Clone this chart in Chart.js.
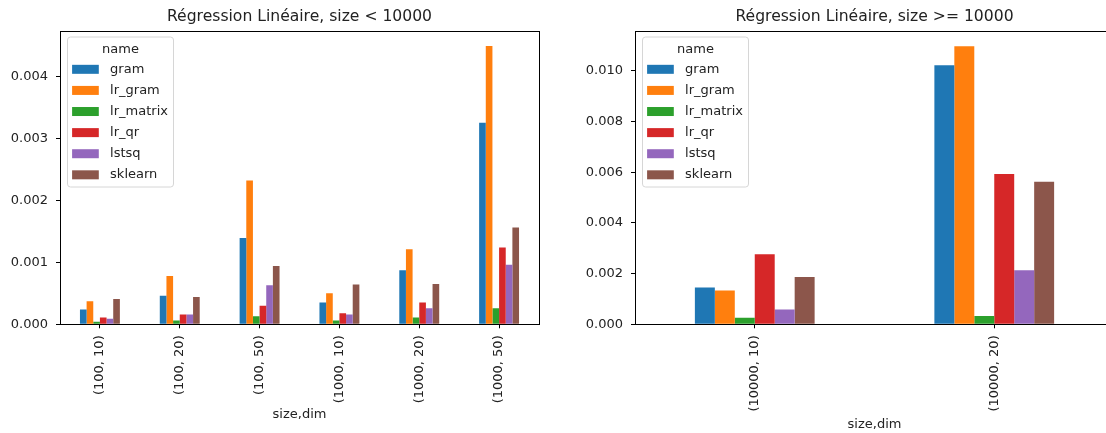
<!DOCTYPE html>
<html lang="fr">
<head>
<meta charset="UTF-8">
<title>Régression Linéaire</title>
<script src="https://cdn.jsdelivr.net/npm/chart.js"></script>
<style>
  html, body { margin: 0; padding: 0; background: #fff; overflow: hidden; }
  #wrap { position: relative; width: 1106px; height: 433px; overflow: hidden; }
  canvas { position: absolute; top: 0; }
  #left { left: 0; }
  #right { left: 560px; }
</style>
</head>
<body>
<div id="wrap">
  <canvas id="left" width="560" height="433"></canvas>
  <canvas id="right" width="560" height="433"></canvas>
</div>
<script>
// series names and colours (matplotlib tab10)
const seriesNames = ['gram', 'lr_gram', 'lr_matrix', 'lr_qr', 'lstsq', 'sklearn'];
const seriesColors = ['#1f77b4', '#ff7f0e', '#2ca02c', '#d62728', '#9467bd', '#8c564b'];

// size < 10000
const categoriesSmall = ['(100, 10)', '(100, 20)', '(100, 50)', '(1000, 10)', '(1000, 20)', '(1000, 50)'];
const gramSmall     = [0.00024, 0.00046, 0.00139, 0.00035, 0.00087, 0.00325];
const lrGramSmall   = [0.00037, 0.00078, 0.00232, 0.00050, 0.00121, 0.00449];
const lrMatrixSmall = [0.00004, 0.00006, 0.00013, 0.00006, 0.00011, 0.00026];
const lrQrSmall     = [0.00011, 0.00016, 0.00030, 0.00018, 0.00035, 0.00124];
const lstsqSmall    = [0.00009, 0.00016, 0.00063, 0.00016, 0.00026, 0.00096];
const sklearnSmall  = [0.00041, 0.00044, 0.00094, 0.00064, 0.00065, 0.00156];

// size >= 10000
const categoriesLarge = ['(10000, 10)', '(10000, 20)'];
const gramLarge     = [0.00145, 0.01022];
const lrGramLarge   = [0.00133, 0.01097];
const lrMatrixLarge = [0.00026, 0.00033];
const lrQrLarge     = [0.00276, 0.00593];
const lstsqLarge    = [0.00058, 0.00213];
const sklearnLarge  = [0.00187, 0.00562];

const FONT = '"DejaVu Sans", sans-serif';
const TEXT = '#222';

// black frame around the plot area
const framePlugin = {
    id: 'frame',
    afterDatasetsDraw(chart) {
        const a = chart.chartArea;
        const ctx = chart.ctx;
        ctx.save();
        ctx.strokeStyle = '#000';
        ctx.lineWidth = 1;
        ctx.strokeRect(Math.round(a.left) + 0.5, Math.round(a.top) + 0.5,
                       Math.round(a.right - a.left), Math.round(a.bottom - a.top));
        ctx.restore();
    }
};

// matplotlib style legend inside the top-left corner, titled "name"
const innerLegend = {
    id: 'innerLegend',
    afterDraw(chart) {
        const a = chart.chartArea;
        const ctx = chart.ctx;
        const x = a.left + 7.5, y = a.top + 6;
        const w = 106, h = 150, r = 3;
        ctx.save();
        ctx.beginPath();
        ctx.moveTo(x + r, y);
        ctx.arcTo(x + w, y, x + w, y + h, r);
        ctx.arcTo(x + w, y + h, x, y + h, r);
        ctx.arcTo(x, y + h, x, y, r);
        ctx.arcTo(x, y, x + w, y, r);
        ctx.closePath();
        ctx.fillStyle = 'rgba(255,255,255,0.8)';
        ctx.fill();
        ctx.strokeStyle = '#d6d6d6';
        ctx.lineWidth = 1;
        ctx.stroke();

        ctx.font = '13px ' + FONT;
        ctx.fillStyle = TEXT;
        ctx.textBaseline = 'middle';
        ctx.textAlign = 'center';
        ctx.fillText('name', x + w / 2, y + 12.5);
        ctx.textAlign = 'left';
        chart.data.datasets.forEach((ds, i) => {
            const cy = y + 32.3 + i * 21.1;
            ctx.fillStyle = ds.backgroundColor;
            ctx.fillRect(x + 4.6, cy - 4.5, 26.7, 9);
            ctx.fillStyle = TEXT;
            ctx.fillText(ds.label, x + 42.6, cy);
        });
        ctx.restore();
    }
};

function makeChart(id, labels, values, yMax, yStep, title, yWidth, padRight, padBottom, xHeight) {
    const datasets = seriesNames.map((name, i) => ({
        label: name,
        data: values[i],
        backgroundColor: seriesColors[i],
        borderWidth: 0,
        categoryPercentage: 0.5,
        barPercentage: 1.0
    }));
    return new Chart(document.getElementById(id), {
        type: 'bar',
        data: { labels: labels, datasets: datasets },
        options: {
            responsive: false,
            devicePixelRatio: 1,
            animation: false,
            layout: { padding: { left: 0, right: padRight, top: 0, bottom: padBottom } },
            plugins: {
                legend: { display: false },
                tooltip: { enabled: false },
                title: {
                    display: true,
                    text: title,
                    fullSize: false,
                    color: TEXT,
                    font: { family: FONT, size: 15.6, weight: 'normal' },
                    padding: { top: 7.5, bottom: 4.8 }
                }
            },
            scales: {
                x: {
                    offset: true,
                    border: { display: false },
                    grid: { drawOnChartArea: false, drawTicks: true, tickLength: 4, color: '#000', offset: false },
                    ticks: {
                        autoSkip: false,
                        minRotation: 90,
                        maxRotation: 90,
                        padding: 7,
                        color: TEXT,
                        font: { family: FONT, size: 13 }
                    },
                    title: {
                        display: true,
                        text: 'size,dim',
                        color: TEXT,
                        font: { family: FONT, size: 13 },
                        padding: 0
                    },
                    afterFit(scale) { scale.height = xHeight; }
                },
                y: {
                    min: 0,
                    max: yMax,
                    border: { display: false },
                    grid: { drawOnChartArea: false, drawTicks: true, tickLength: 4, color: '#000' },
                    ticks: {
                        stepSize: yStep,
                        includeBounds: false,
                        padding: 8,
                        color: TEXT,
                        font: { family: FONT, size: 13 },
                        callback: v => Number(v).toFixed(3)
                    },
                    afterFit(scale) { scale.width = yWidth; }
                }
            }
        },
        plugins: [framePlugin, innerLegend]
    });
}

makeChart('left', categoriesSmall,
    [gramSmall, lrGramSmall, lrMatrixSmall, lrQrSmall, lstsqSmall, sklearnSmall],
    0.00473, 0.001, 'Régression Linéaire, size < 10000', 60, 21, 10.2, 98.5);

makeChart('right', categoriesLarge,
    [gramLarge, lrGramLarge, lrMatrixLarge, lrQrLarge, lstsqLarge, sklearnLarge],
    0.01157, 0.002, 'Régression Linéaire, size >= 10000', 75, 6, 0.9, 107.8);
</script>
</body>
</html>
